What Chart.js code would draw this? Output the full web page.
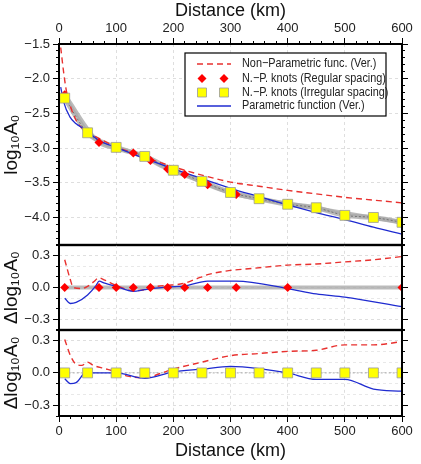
<!DOCTYPE html>
<html>
<head>
<meta charset="utf-8">
<script src="https://cdn.jsdelivr.net/npm/chart.js@4"></script>
<style>
  body { margin: 0; background: #fff; }
  #wrap { position: relative; width: 421px; height: 464px; overflow: hidden; }
  canvas { position: absolute; left: 0; }
</style>
</head>
<body>
<div id="wrap">
  <canvas id="topChart" style="top:0px" width="421" height="252"></canvas>
  <canvas id="midChart" style="top:238px" width="421" height="99"></canvas>
  <canvas id="botChart" style="top:323px" width="421" height="141"></canvas>
</div>
<script>
// knots
const regKnotX = [10, 70, 100, 130, 160, 190, 220, 260, 310, 400, 600];
const regKnotY = [-2.23, -2.92, -3.00, -3.07, -3.18, -3.30, -3.38, -3.53, -3.67, -3.80, -4.07];
const irrKnotX = [10, 50, 100, 150, 200, 250, 300, 350, 400, 450, 500, 550, 600];
const irrKnotY = [-2.28, -2.78, -2.99, -3.12, -3.32, -3.48, -3.64, -3.73, -3.81, -3.86, -3.97, -4.00, -4.07];

// functions (top panel)
const nonParX = [3, 8, 13, 20, 30, 40, 50, 70, 100, 150, 200, 250, 300, 350, 400, 450, 500, 550, 600];
const nonParY = [-1.55, -1.90, -2.18, -2.40, -2.60, -2.71, -2.77, -2.86, -2.98, -3.13, -3.27, -3.39, -3.49, -3.55, -3.61, -3.66, -3.71, -3.75, -3.79];
const paramX = [3, 8, 19, 30, 43, 60, 72, 100, 150, 200, 250, 300, 350, 400, 450, 500, 550, 600];
const paramY = [-2.12, -2.33, -2.55, -2.65, -2.72, -2.83, -2.90, -2.99, -3.15, -3.30, -3.44, -3.58, -3.70, -3.82, -3.93, -4.03, -4.14, -4.24];

// residuals vs regular-spacing knots (middle panel)
const resRegX = [10, 20, 25, 40, 50, 60, 70, 80, 100, 130, 150, 170, 190, 210, 220, 240, 260, 300, 320, 360, 400, 450, 500, 550, 600];
const resRegNonPar = [0.26, 0.07, 0.00, -0.01, 0.01, 0.05, 0.09, 0.07, 0.02, -0.03, -0.02, 0.01, 0.02, 0.03, 0.04, 0.08, 0.12, 0.16, 0.17, 0.19, 0.21, 0.22, 0.24, 0.26, 0.29];
const resRegParX = [10, 20, 30, 50, 65, 70, 80, 100, 130, 150, 190, 220, 260, 310, 400, 450, 500, 600];
const resRegPar = [-0.10, -0.15, -0.14, -0.07, 0.02, 0.06, 0.04, 0.01, -0.035, -0.02, 0.005, 0.015, 0.06, 0.06, -0.01, -0.06, -0.09, -0.18];
const regKnotRes = [0, 0, 0, 0, 0, 0, 0, 0, 0, 0, 0];

// residuals vs irregular-spacing knots (bottom panel)
const resIrrX = [10, 20, 30, 40, 50, 60, 80, 100, 120, 150, 180, 200, 250, 300, 350, 400, 450, 500, 550, 600];
const resIrrNonPar = [0.31, 0.16, 0.08, 0.07, 0.10, 0.07, 0.04, 0.01, -0.03, -0.045, 0.00, 0.035, 0.10, 0.16, 0.18, 0.20, 0.21, 0.26, 0.26, 0.29];
const resIrrParX = [10, 20, 30, 50, 60, 100, 150, 200, 250, 300, 350, 400, 450, 500, 550, 600];
const resIrrPar = [-0.055, -0.10, -0.09, 0.02, 0.00, 0.00, -0.05, 0.01, 0.035, 0.06, 0.04, 0.00, -0.06, -0.06, -0.15, -0.17];
const irrKnotRes = [0, 0, 0, 0, 0, 0, 0, 0, 0, 0, 0, 0, 0];

const xTicks = [0, 100, 200, 300, 400, 500, 600];
const topYTicks = [-4.0, -3.5, -3.0, -2.5, -2.0, -1.5];
const resYTicks = [-0.3, 0.0, 0.3];

const FONT = 'Liberation Sans, Arial, Helvetica, sans-serif';
const RED = '#e8312f';
const BLUE = '#1f2bd0';
const GRAY = 'rgba(170,170,170,0.8)';

function pts(xs, ys) {
  return xs.map((x, i) => ({ x: x, y: ys[i] }));
}
function fmt(v) {
  return v.toFixed(1).replace('-', '\u2212');
}

const framePlugin = {
  id: 'frame',
  afterDatasetsDraw(chart) {
    const a = chart.chartArea;
    const ctx = chart.ctx;
    ctx.save();
    ctx.strokeStyle = '#000';
    ctx.lineWidth = 2;
    ctx.strokeRect(a.left, a.top, a.right - a.left, a.bottom - a.top);
    ctx.restore();
  }
};

const legendPlugin = {
  id: 'boxLegend',
  afterDraw(chart) {
    const ctx = chart.ctx;
    const top = chart.chartArea.top;
    ctx.save();
    ctx.fillStyle = '#fff';
    ctx.fillRect(185, top + 9, 201, 63);
    ctx.strokeStyle = '#000';
    ctx.lineWidth = 1.2;
    ctx.strokeRect(185, top + 9, 201, 63);
    const rows = [20, 34.5, 48.5, 62];
    const items = chart.data.datasets.filter(d => d.inLegend);
    items.forEach((d, i) => {
      const y = top + rows[i];
      if (d.showLine === false) {
        [202, 224].forEach(x => {
          ctx.fillStyle = d.pointBackgroundColor;
          ctx.strokeStyle = d.pointBorderColor;
          ctx.lineWidth = 0.8;
          ctx.beginPath();
          if (d.pointStyle === 'rectRot') {
            ctx.moveTo(x, y - 4.5); ctx.lineTo(x + 4.5, y); ctx.lineTo(x, y + 4.5); ctx.lineTo(x - 4.5, y);
          } else {
            ctx.rect(x - 4.5, y - 4.5, 9, 9);
          }
          ctx.closePath();
          ctx.fill();
          if (d.pointStyle !== 'rectRot') ctx.stroke();
        });
      } else {
        ctx.strokeStyle = d.borderColor;
        ctx.lineWidth = d.borderWidth;
        ctx.setLineDash(d.borderDash || []);
        ctx.beginPath();
        ctx.moveTo(197, y);
        ctx.lineTo(231, y);
        ctx.stroke();
        ctx.setLineDash([]);
      }
      ctx.save();
      ctx.translate(242, y);
      ctx.scale(0.87, 1);
      ctx.fillStyle = '#222';
      ctx.font = '12.5px ' + FONT;
      ctx.textBaseline = 'middle';
      ctx.fillText(d.label, 0, 0);
      ctx.restore();
    });
    ctx.restore();
  }
};

function xScale(position, showLabels, height) {
  return {
    type: 'linear',
    position: position,
    weight: 1,
    min: 0, max: 600,
    afterBuildTicks: s => { s.ticks = xTicks.map(v => ({ value: v })); },
    ticks: { display: showLabels, color: '#222', font: { family: FONT, size: 13 }, padding: 2, maxRotation: 0 },
    grid: { color: '#dedede', tickColor: '#000', tickLength: showLabels ? 6 : 0, drawTicks: showLabels, tickBorderDash: [] },
    border: { display: false, dash: [3, 3] },
    title: { display: showLabels, text: 'Distance (km)', color: '#111', font: { family: FONT, size: 18 }, padding: { top: 0, bottom: 2 } },
    afterFit: s => { s.height = height; }
  };
}

function xMinor(position) {
  return {
    type: 'linear',
    position: position,
    weight: 0,
    min: 0, max: 600,
    ticks: { display: false, stepSize: 20 },
    grid: { drawOnChartArea: false, tickColor: '#000', tickLength: 3 },
    border: { display: false },
    afterFit: s => { s.height = 0; }
  };
}

function yScale(min, max, title, tickVals) {
  return {
    type: 'linear',
    position: 'left',
    weight: 1,
    min: min, max: max,
    afterBuildTicks: s => { s.ticks = tickVals.map(v => ({ value: v })); },
    ticks: { color: '#222', font: { family: FONT, size: 13 }, padding: 3, callback: v => fmt(v) },
    grid: { color: '#dedede', tickColor: '#000', tickLength: 6, tickBorderDash: [] },
    border: { display: false, dash: [3, 3] },
    title: { display: true, text: title, color: '#111', font: { family: FONT, size: 19 }, padding: { top: 0, bottom: 0 } },
    afterFit: s => { s.width = 59; }
  };
}

function yMinor(position, min, max, step) {
  return {
    type: 'linear',
    position: position,
    weight: 0,
    min: min, max: max,
    ticks: { display: false, stepSize: step },
    grid: { drawOnChartArea: false, tickColor: '#000', tickLength: 3 },
    border: { display: false },
    afterFit: s => { s.width = 0; }
  };
}

function yRight(min, max, tickVals) {
  return {
    type: 'linear',
    position: 'right',
    weight: 1,
    min: min, max: max,
    afterBuildTicks: s => { s.ticks = tickVals.map(v => ({ value: v })); },
    ticks: { display: false },
    grid: { drawOnChartArea: false, tickColor: '#000', tickLength: 6 },
    border: { display: false },
    afterFit: s => { s.width = 19; }
  };
}

function residGrid(min, max) {
  // faint grid every 0.1 behind the residual panels
  return {
    type: 'linear',
    position: 'left',
    weight: 2,
    min: min, max: max,
    ticks: { display: false, stepSize: 0.1 },
    grid: { color: '#e8e8e8', drawTicks: false },
    border: { display: false, dash: [3, 3] },
    afterFit: s => { s.width = 0; }
  };
}

function commonOptions(scales) {
  return {
    responsive: false,
    maintainAspectRatio: false,
    animation: false,
    events: [],
    layout: { padding: 0 },
    plugins: { legend: { display: false }, tooltip: { enabled: false } },
    elements: { point: { radius: 0 }, line: { tension: 0 } },
    scales: scales
  };
}

function topConfig() {
  return {
    type: 'scatter',
    data: {
      datasets: [
        { label: 'reg band', order: 10, data: pts(regKnotX, regKnotY), showLine: true, borderColor: GRAY, borderWidth: 4, pointRadius: 0, cubicInterpolationMode: 'monotone' },
        { label: 'irr band', order: 9, data: pts(irrKnotX, irrKnotY), showLine: true, borderColor: GRAY, borderWidth: 5, pointRadius: 0, cubicInterpolationMode: 'monotone' },
        { label: 'irr curve', order: 8, data: pts(irrKnotX, irrKnotY), showLine: true, borderColor: '#666', borderWidth: 0.8, borderDash: [2, 2], pointRadius: 0, cubicInterpolationMode: 'monotone' },
        { label: 'Non\u2212Parametric func. (Ver.)', inLegend: true, order: 5, data: pts(nonParX, nonParY), showLine: true, borderColor: RED, borderWidth: 1.4, borderDash: [6, 4], pointRadius: 0, cubicInterpolationMode: 'monotone' },
        { label: 'N.\u2212P. knots (Regular spacing)', inLegend: true, order: 3, data: pts(regKnotX, regKnotY), showLine: false, pointStyle: 'rectRot', pointRadius: 4.5, pointBackgroundColor: '#ff0000', pointBorderColor: '#ff0000', pointBorderWidth: 0 },
        { label: 'N.\u2212P. knots (Irregular spacing)', inLegend: true, order: 2, data: pts(irrKnotX, irrKnotY), showLine: false, pointStyle: 'rect', pointRadius: 7, pointBackgroundColor: '#ffff00', pointBorderColor: '#999', pointBorderWidth: 0.8 },
        { label: 'Parametric function (Ver.)', inLegend: true, order: 4, data: pts(paramX, paramY), showLine: true, borderColor: BLUE, borderWidth: 1.3, pointRadius: 0, cubicInterpolationMode: 'monotone' }
      ]
    },
    options: commonOptions({
      x: xScale('top', true, 44),
      xm: xMinor('top'),
      y: yScale(-4.4, -1.5, 'log\u2081\u2080A\u2080', topYTicks),
      ym: yMinor('left', -4.4, -1.5, 0.1),
      yr: yRight(-4.4, -1.5, topYTicks),
      yrm: yMinor('right', -4.4, -1.5, 0.1)
    }),
    plugins: [framePlugin, legendPlugin]
  };
}

function midConfig() {
  return {
    type: 'scatter',
    data: {
      datasets: [
        { order: 10, data: pts(regKnotX, regKnotRes), showLine: true, borderColor: GRAY, borderWidth: 4, pointRadius: 0 },
        { order: 5, data: pts(resRegX, resRegNonPar), showLine: true, borderColor: RED, borderWidth: 1.4, borderDash: [6, 4], pointRadius: 0, cubicInterpolationMode: 'monotone' },
        { order: 4, data: pts(resRegParX, resRegPar), showLine: true, borderColor: BLUE, borderWidth: 1.3, pointRadius: 0, cubicInterpolationMode: 'monotone' },
        { order: 3, data: pts(regKnotX, regKnotRes), showLine: false, pointStyle: 'rectRot', pointRadius: 4.5, pointBackgroundColor: '#ff0000', pointBorderWidth: 0 }
      ]
    },
    options: commonOptions({
      x: xScale('bottom', false, 0),
      yg: residGrid(-0.4, 0.4),
      y: yScale(-0.4, 0.4, '\u0394log\u2081\u2080A\u2080', resYTicks),
      ym: yMinor('left', -0.4, 0.4, 0.1),
      yr: yRight(-0.4, 0.4, resYTicks),
      yrm: yMinor('right', -0.4, 0.4, 0.1)
    }),
    plugins: [framePlugin]
  };
}

function botConfig() {
  return {
    type: 'scatter',
    data: {
      datasets: [
        { order: 10, data: pts(irrKnotX, irrKnotRes), showLine: true, borderColor: '#aaa', borderWidth: 1, borderDash: [2, 2], pointRadius: 0 },
        { order: 5, data: pts(resIrrX, resIrrNonPar), showLine: true, borderColor: RED, borderWidth: 1.4, borderDash: [6, 4], pointRadius: 0, cubicInterpolationMode: 'monotone' },
        { order: 4, data: pts(resIrrParX, resIrrPar), showLine: true, borderColor: BLUE, borderWidth: 1.3, pointRadius: 0, cubicInterpolationMode: 'monotone' },
        { order: 2, data: pts(irrKnotX, irrKnotRes), showLine: false, pointStyle: 'rect', pointRadius: 7, pointBackgroundColor: '#ffff00', pointBorderColor: '#999', pointBorderWidth: 0.8 }
      ]
    },
    options: commonOptions({
      x: xScale('bottom', true, 48),
      xm: xMinor('bottom'),
      yg: residGrid(-0.4, 0.4),
      y: yScale(-0.4, 0.4, '\u0394log\u2081\u2080A\u2080', resYTicks),
      ym: yMinor('left', -0.4, 0.4, 0.1),
      yr: yRight(-0.4, 0.4, resYTicks),
      yrm: yMinor('right', -0.4, 0.4, 0.1)
    }),
    plugins: [framePlugin]
  };
}

// draw once, measure the space Chart.js keeps round the plot area,
// then redraw on a canvas sized so the plot sits exactly at plotTop..plotBottom
function build(id, makeConfig, plotTop, plotBottom) {
  const canvas = document.getElementById(id);
  let chart = new Chart(canvas.getContext('2d'), makeConfig());
  const extraTop = chart.chartArea.top;
  const extraBottom = chart.height - chart.chartArea.bottom;
  chart.destroy();
  canvas.width = 421;
  canvas.height = Math.round(plotBottom - plotTop + extraTop + extraBottom);
  canvas.style.top = Math.round(plotTop - extraTop) + 'px';
  chart = new Chart(canvas.getContext('2d'), makeConfig());
  return chart;
}

build('topChart', topConfig, 44, 245);
build('midChart', midConfig, 245, 330);
build('botChart', botConfig, 330, 416);
</script>
</body>
</html>
